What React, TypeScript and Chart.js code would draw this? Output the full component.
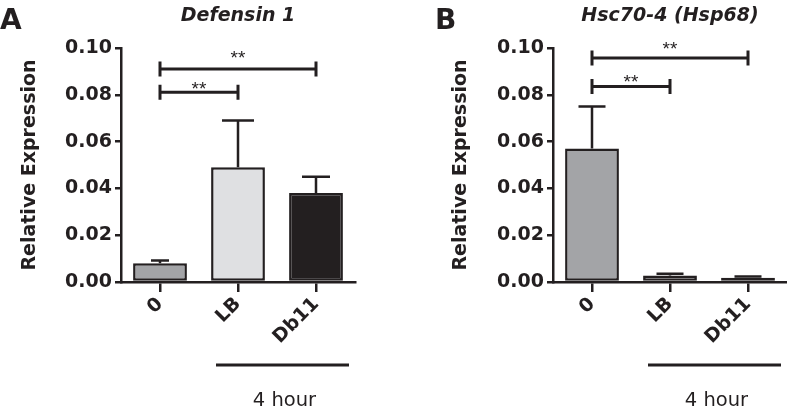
import React, { useEffect, useRef } from 'react';
import { Chart, registerables } from 'chart.js';

Chart.register(...registerables);

// ---------- data ----------
const categories = ['0', 'LB', 'Db11'];
const yTickLabels = ['0.00', '0.02', '0.04', '0.06', '0.08', '0.10'];

const defensinMeans = [0.008, 0.049, 0.038];
const defensinErrors = [0.0012, 0.02, 0.007];

const hscMeans = [0.057, 0.0028, 0.0018];
const hscErrors = [0.018, 0.0007, 0.0005];

const defensinBrackets = [
  { from: 0, to: 1, value: 0.0811, labelValue: 0.0846, label: '**' },
  { from: 0, to: 2, value: 0.091, labelValue: 0.0977, label: '**' },
];
const hscBrackets = [
  { from: 0, to: 1, value: 0.0835, labelValue: 0.0873, label: '**' },
  { from: 0, to: 2, value: 0.0957, labelValue: 0.1015, label: '**' },
];

const groupLabel = '4 hour';
const groupFrom = 1;
const groupTo = 2;

// ---------- style ----------
const DARK = '#231f20';
const barColors = ['#a3a4a7', '#dfe0e2', '#231f20'];
const FONT = '"DejaVu Sans", sans-serif';

type Bracket = { from: number; to: number; value: number; labelValue: number; label: string };
type Panel = {
  letter: string;
  title: string;
  means: number[];
  errors: number[];
  brackets: Bracket[];
  left: number;
  width: number;
  yAxisWidth: number;
  rightPad: number;
  yTitlePad: number;
  letterX: number;
  capWidths: number[];
};

const panels: Panel[] = [
  {
    letter: 'A',
    title: 'Defensin 1',
    means: defensinMeans,
    errors: defensinErrors,
    brackets: defensinBrackets,
    left: 0,
    width: 393,
    yAxisWidth: 121,
    rightPad: 38,
    yTitlePad: 19,
    letterX: 0,
    capWidths: [18, 32, 28],
  },
  {
    letter: 'B',
    title: 'Hsc70-4 (Hsp68)',
    means: hscMeans,
    errors: hscErrors,
    brackets: hscBrackets,
    left: 393,
    width: 394,
    yAxisWidth: 160,
    rightPad: 0,
    yTitlePad: 57,
    letterX: 42,
    capWidths: [27, 27, 27],
  },
];

const H = 406;

function PanelChart({ p }: { p: Panel }) {
  const ref = useRef<HTMLCanvasElement | null>(null);

  useEffect(() => {
    if (!ref.current) return;

    const plugin = {
      id: 'annot' + p.letter,
      afterDatasetsDraw(chart: any) {
        const ctx = chart.ctx;
        const ys = chart.scales.y;
        const meta = chart.getDatasetMeta(0);
        ctx.save();
        ctx.strokeStyle = DARK;
        ctx.lineWidth = 2.5;
        ctx.lineCap = 'butt';
        p.means.forEach((m, i) => {
          const el = meta.data[i];
          const x = el.x;
          const yb = ys.getPixelForValue(m);
          const yt = ys.getPixelForValue(m + p.errors[i]);
          const cw = p.capWidths[i];
          ctx.beginPath();
          ctx.moveTo(x, yb);
          ctx.lineTo(x, yt);
          ctx.moveTo(x - cw / 2, yt);
          ctx.lineTo(x + cw / 2, yt);
          ctx.stroke();
        });
        ctx.restore();
      },
      afterDraw(chart: any) {
        const ctx = chart.ctx;
        const xs = chart.scales.x;
        const ys = chart.scales.y;
        const area = chart.chartArea;
        ctx.save();
        ctx.fillStyle = DARK;
        ctx.strokeStyle = DARK;

        // panel letter
        ctx.font = `bold 28px ${FONT}`;
        ctx.textAlign = 'left';
        ctx.textBaseline = 'alphabetic';
        ctx.fillText(p.letter, p.letterX, 29);

        // title
        ctx.font = `italic bold 19px ${FONT}`;
        ctx.textAlign = 'center';
        ctx.fillText(p.title, (area.left + area.right) / 2, 21);

        // brackets
        ctx.lineWidth = 3;
        p.brackets.forEach((b) => {
          const x1 = xs.getPixelForValue(b.from);
          const x2 = xs.getPixelForValue(b.to);
          const y = ys.getPixelForValue(b.value);
          ctx.beginPath();
          ctx.moveTo(x1, y);
          ctx.lineTo(x2, y);
          ctx.moveTo(x1, y - 7.5);
          ctx.lineTo(x1, y + 7.5);
          ctx.moveTo(x2, y - 7.5);
          ctx.lineTo(x2, y + 7.5);
          ctx.stroke();
          ctx.font = `19px "Liberation Sans", Arial, sans-serif`;
          ctx.textAlign = 'center';
          ctx.textBaseline = 'alphabetic';
          ctx.fillText(b.label, (x1 + x2) / 2, ys.getPixelForValue(b.labelValue) + 10.6);
        });

        // group line + label
        const gx1 = xs.getPixelForValue(groupFrom) - 22;
        const gx2 = xs.getPixelForValue(groupTo) + 33;
        const gy = area.bottom + 83;
        ctx.lineWidth = 3;
        ctx.beginPath();
        ctx.moveTo(gx1, gy);
        ctx.lineTo(gx2, gy);
        ctx.stroke();
        ctx.font = `19.5px ${FONT}`;
        ctx.textAlign = 'center';
        ctx.textBaseline = 'alphabetic';
        ctx.fillText(groupLabel, (gx1 + gx2) / 2 + 2, area.bottom + 123.5);
        ctx.restore();
      },
    };

    const chart = new Chart(ref.current, {
      type: 'bar',
      data: {
        labels: categories,
        datasets: [
          {
            data: p.means,
            backgroundColor: barColors,
            borderColor: DARK,
            borderWidth: 2.5,
            borderSkipped: false,
            barPercentage: 0.69,
            categoryPercentage: 1,
          },
        ],
      },
      options: {
        responsive: false,
        animation: false,
        devicePixelRatio: 1,
        layout: { padding: { top: 48, right: p.rightPad, left: 0, bottom: 0 } },
        plugins: {
          legend: { display: false },
          tooltip: { enabled: false },
          title: { display: false },
        },
        scales: {
          x: {
            offset: true,
            ticks: {
              autoSkip: false,
              maxRotation: 45,
              minRotation: 45,
              padding: 1,
              color: DARK,
              font: { family: FONT, size: 19, weight: 'bold' },
            },
            grid: {
              offset: false,
              drawOnChartArea: false,
              drawTicks: true,
              tickLength: 10,
              color: DARK,
              lineWidth: 2.5,
            },
            border: { display: true, color: DARK, width: 2.5 },
            afterFit: (s: any) => {
              s.height = H - 282;
            },
          },
          y: {
            min: 0,
            max: 0.1,
            ticks: {
              stepSize: 0.02,
              padding: 3,
              color: DARK,
              font: { family: FONT, size: 19, weight: 'bold' },
              callback: (_v: any, i: number) => yTickLabels[i],
            },
            grid: {
              drawOnChartArea: false,
              drawTicks: true,
              tickLength: 6,
              color: DARK,
              lineWidth: 2.5,
            },
            border: { display: true, color: DARK, width: 2.5 },
            title: {
              display: true,
              text: 'Relative Expression',
              color: DARK,
              font: { family: FONT, size: 19, weight: 'bold' },
              padding: { top: p.yTitlePad, bottom: 0 },
            },
            afterFit: (s: any) => {
              s.width = p.yAxisWidth;
            },
          },
        },
      } as any,
      plugins: [plugin],
    });

    return () => chart.destroy();
  }, [p]);

  return (
    <canvas
      ref={ref}
      width={p.width}
      height={H}
      style={{ position: 'absolute', left: p.left, top: 0, width: p.width, height: H, display: 'block' }}
    />
  );
}

export default function App() {
  return (
    <div style={{ position: 'absolute', left: 0, top: 0, width: 787, height: H, background: '#fff', overflow: 'hidden' }}>
      {panels.map((p) => (
        <PanelChart key={p.letter} p={p} />
      ))}
    </div>
  );
}
